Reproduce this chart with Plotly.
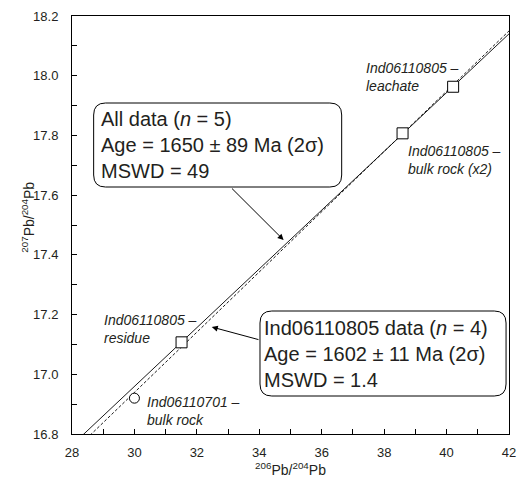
import plotly.graph_objects as go
import numpy as np

# ---- data ----
square_labels = ["Ind06110805 – residue", "Ind06110805 – bulk rock (x2)", "Ind06110805 – leachate"]
square_x = [31.51, 38.59, 40.21]
square_y = [17.107, 17.807, 17.963]
circle_labels = ["Ind06110701 – bulk rock"]
circle_x = [30.0]
circle_y = [16.92]

# isochron lines (slope, intercept)
iso805_slope, iso805_int = 0.0984, 14.0074    # Ind06110805 data (n = 4), solid
isoall_slope, isoall_int = 0.1009, 13.9122    # All data (n = 5), dashed

x_ticks = [28, 30, 32, 34, 36, 38, 40, 42]
y_ticks = [16.8, 17.0, 17.2, 17.4, 17.6, 17.8, 18.0, 18.2]

XR = [28, 42]
YR = [16.8, 18.2]

FONT = "Liberation Sans, Arial, sans-serif"
TXT = "#231f20"

fig = go.Figure()

lx = np.array(XR, dtype=float)
fig.add_trace(go.Scatter(x=lx, y=isoall_slope * lx + isoall_int, mode="lines",
                         line=dict(color="black", width=0.9, dash="3px,2px"),
                         showlegend=False, hoverinfo="skip"))
fig.add_trace(go.Scatter(x=lx, y=iso805_slope * lx + iso805_int, mode="lines",
                         line=dict(color="black", width=0.9),
                         showlegend=False, hoverinfo="skip"))
fig.add_trace(go.Scatter(x=square_x, y=square_y, mode="markers", text=square_labels,
                         marker=dict(symbol="square", size=11, color="white",
                                     line=dict(color="black", width=1)),
                         showlegend=False))
fig.add_trace(go.Scatter(x=circle_x, y=circle_y, mode="markers", text=circle_labels,
                         marker=dict(symbol="circle", size=10, color="white",
                                     line=dict(color="black", width=1)),
                         showlegend=False))

# pixel <-> data helpers for layout decorations
L, R, T, B = 72, 516, 16, 434
def dx(px):
    return XR[0] + (px - L) / (R - L) * (XR[1] - XR[0])
def dy(py):
    return YR[0] + (B - py) / (B - T) * (YR[1] - YR[0])

def rounded_box(x0p, y0p, x1p, y1p, r=12):
    rx = r / (R - L) * (XR[1] - XR[0])
    ry = r / (B - T) * (YR[1] - YR[0])
    x0, x1 = dx(x0p), dx(x1p)
    yt, yb = dy(y0p), dy(y1p)
    return (f"M {x0+rx},{yt} L {x1-rx},{yt} Q {x1},{yt} {x1},{yt-ry} "
            f"L {x1},{yb+ry} Q {x1},{yb} {x1-rx},{yb} "
            f"L {x0+rx},{yb} Q {x0},{yb} {x0},{yb+ry} "
            f"L {x0},{yt-ry} Q {x0},{yt} {x0+rx},{yt} Z")

shapes = [
    dict(type="path", xref="x", yref="y", path=rounded_box(94, 103, 346, 187),
         line=dict(color="black", width=1), fillcolor="white", layer="above"),
    dict(type="path", xref="x", yref="y", path=rounded_box(263, 311, 513, 396),
         line=dict(color="black", width=1), fillcolor="white", layer="above"),
]

annotations = []
# box texts
annotations.append(dict(x=dx(99), y=dy(145), xref="x", yref="y", xanchor="left", yanchor="middle",
                        align="left", showarrow=False,
                        text="All data (<i>n</i> = 5)<br>Age = 1650 ± 89 Ma (2σ)<br>MSWD = 49",
                        font=dict(family=FONT, size=20, color=TXT)))
annotations.append(dict(x=dx(265), y=dy(354), xref="x", yref="y", xanchor="left", yanchor="middle",
                        align="left", showarrow=False,
                        text="Ind06110805 data (<i>n</i> = 4)<br>Age = 1602 ± 11 Ma (2σ)<br>MSWD = 1.4",
                        font=dict(family=FONT, size=20, color=TXT)))
# arrows
annotations.append(dict(x=dx(287), y=dy(240), ax=dx(233), ay=dy(187), xref="x", yref="y",
                        axref="x", ayref="y", text="", showarrow=True, arrowhead=2,
                        arrowsize=1.2, arrowwidth=1, arrowcolor="black"))
annotations.append(dict(x=dx(214), y=dy(327), ax=dx(263), ay=dy(340), xref="x", yref="y",
                        axref="x", ayref="y", text="", showarrow=True, arrowhead=2,
                        arrowsize=1.2, arrowwidth=1, arrowcolor="black"))
# sample labels
labels = [
    (369, 76.5, "Ind06110805 –<br>leachate"),
    (411, 160, "Ind06110805 –<br>bulk rock (x2)"),
    (102, 328.5, "Ind06110805 –<br>residue"),
    (146, 410.5, "Ind06110701 –<br>bulk rock"),
]
for px, py, t in labels:
    annotations.append(dict(x=dx(px), y=dy(py), xref="x", yref="y", xanchor="left",
                            yanchor="middle", align="left", showarrow=False,
                            text=f"<i>{t}</i>", font=dict(family=FONT, size=14, color=TXT)))
# y-axis title
annotations.append(dict(x=(27 - L) / (R - L), y=(B - 217) / (B - T), xref="paper", yref="paper",
                        xanchor="center", yanchor="middle", textangle=-90, showarrow=False,
                        text="<sup>207</sup>Pb/<sup>204</sup>Pb",
                        font=dict(family=FONT, size=14, color=TXT)))

axis_common = dict(showline=True, linecolor="black", linewidth=1, mirror=True,
                   showgrid=False, zeroline=False, ticks="inside", ticklen=5,
                   tickcolor="black", tickfont=dict(family=FONT, size=13, color=TXT),
                   ticklabeloverflow="allow")

fig.update_layout(
    width=524, height=487,
    margin=dict(l=L, r=524 - R, t=T, b=487 - B),
    paper_bgcolor="white", plot_bgcolor="white",
    shapes=shapes, annotations=annotations,
    xaxis=dict(range=XR, tickvals=x_ticks, ticktext=[str(v) for v in x_ticks],
               minor=dict(dtick=1, ticks="inside", ticklen=5, tickcolor="black"),
               ticklabelstandoff=6,
               title=dict(text="<sup>206</sup>Pb/<sup>204</sup>Pb", standoff=6,
                          font=dict(family=FONT, size=14, color=TXT)),
               **axis_common),
    yaxis=dict(range=YR, tickvals=y_ticks, ticktext=[f"{v:.1f}" for v in y_ticks],
               minor=dict(dtick=0.1, tick0=16.8, ticks="inside", ticklen=5, tickcolor="black"),
               ticklabelstandoff=10,
               **axis_common),
)

fig.write_html("out.html", config={"displayModeBar": False},
               post_script="document.body.style.margin='0';document.body.style.overflow='hidden';")
